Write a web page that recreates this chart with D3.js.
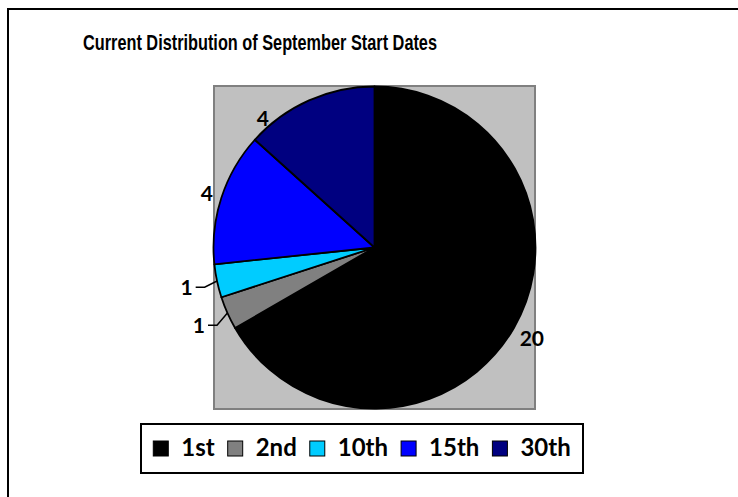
<!DOCTYPE html>
<html>
<head>
<meta charset="utf-8">
<script src="https://cdn.jsdelivr.net/npm/d3@7"></script>
<style>
  body { margin: 0; background: #fff; }
  svg { display: block; }
</style>
</head>
<body>
<div id="chart"></div>
<script>
var title = "Current Distribution of September Start Dates";
var categories = ["1st", "2nd", "10th", "15th", "30th"];
var values = [20, 1, 1, 4, 4];
var colors = ["#000000", "#808080", "#00CCFF", "#0000FF", "#000080"];

var width = 738, height = 497;
var svg = d3.select("#chart").append("svg").attr("width", width).attr("height", height);

// outer frame (runs off the right and bottom edge)
svg.append("path")
    .attr("d", "M8,497V9H738")
    .attr("fill", "none").attr("stroke", "#000").attr("stroke-width", 2);

svg.append("text")
    .attr("x", 260).attr("y", 50)
    .attr("text-anchor", "middle")
    .attr("font-family", "Liberation Sans, Arial, sans-serif")
    .attr("font-weight", "bold").attr("font-size", 21.5)
    .attr("textLength", 354).attr("lengthAdjust", "spacingAndGlyphs")
    .text(title);

// plot area
var plot = { x: 214, y: 86, w: 321, h: 323 };
svg.append("rect")
    .attr("x", plot.x).attr("y", plot.y).attr("width", plot.w).attr("height", plot.h)
    .attr("fill", "#C0C0C0").attr("stroke", "#808080").attr("stroke-width", 2);

var cx = 374.5, cy = 247.5, r = 161;
var g = svg.append("g").attr("transform", "translate(" + cx + "," + cy + ")");

var data = categories.map(function (c, i) { return { cat: c, value: values[i], color: colors[i] }; });
var pie = d3.pie().sort(null).value(function (d) { return d.value; });
var arc = d3.arc().innerRadius(0).outerRadius(r);
var arcs = pie(data);

g.selectAll("path.slice")
    .data(arcs)
    .enter().append("path")
    .attr("class", "slice")
    .attr("d", arc)
    .attr("fill", function (d) { return d.data.color; })
    .attr("stroke", "#000").attr("stroke-width", 1.8)
    .attr("stroke-linejoin", "round");

// data labels
var labelFont = "Lato, 'Open Sans', sans-serif";
function pt(a, rad) { return [Math.sin(a) * rad, -Math.cos(a) * rad]; }

arcs.forEach(function (d, i) {
    var small = d.value < 2;
    var last = i === arcs.length - 1;
    // last slice label sits near its leading edge, like the original best-fit placement
    var a = last
        ? d.startAngle + 0.15 * (d.endAngle - d.startAngle)
        : (d.startAngle + d.endAngle) / 2;
    var lr = small ? r + 30 : (last ? r + 10 : r + 14 + d.value / 3);
    var p = pt(a, lr);
    if (small) {
        var e = pt(a, r);
        g.append("path")
            .attr("d", "M" + e[0] + "," + e[1] + "L" + (p[0] + 17) + "," + p[1] + "L" + (p[0] + 8) + "," + p[1])
            .attr("fill", "none").attr("stroke", "#000").attr("stroke-width", 1.5);
    }
    g.append("text")
        .attr("x", p[0] + (small ? 5 : 0)).attr("y", p[1])
        .attr("text-anchor", small ? "end" : "middle")
        .attr("dy", "0.36em")
        .attr("font-family", labelFont).attr("font-weight", "bold").attr("font-size", 21)
        .text(d.value);
});

// legend
var legend = { x: 141, y: 424, w: 442, h: 49 };
svg.append("rect")
    .attr("x", legend.x).attr("y", legend.y).attr("width", legend.w).attr("height", legend.h)
    .attr("fill", "#fff").attr("stroke", "#000").attr("stroke-width", 2);

var lg = svg.append("g");
var items = lg.selectAll("g.item").data(data).enter().append("g").attr("class", "item");
items.append("rect")
    .attr("width", 15).attr("height", 15)
    .attr("fill", function (d) { return d.color; })
    .attr("stroke", "#000").attr("stroke-width", 1);
items.append("text")
    .attr("x", 28).attr("y", 15)
    .attr("font-family", labelFont).attr("font-weight", "bold").attr("font-size", 24)
    .text(function (d) { return d.cat; });

var gap = 13, xPos = [], total = 0;
items.each(function () {
    var w = 28 + this.querySelector("text").getComputedTextLength();
    xPos.push(total);
    total += w + gap;
});
total -= gap;
var startX = legend.x + (legend.w - total) / 2;
items.attr("transform", function (d, i) { return "translate(" + (startX + xPos[i]) + "," + 441 + ")"; });
</script>
</body>
</html>
